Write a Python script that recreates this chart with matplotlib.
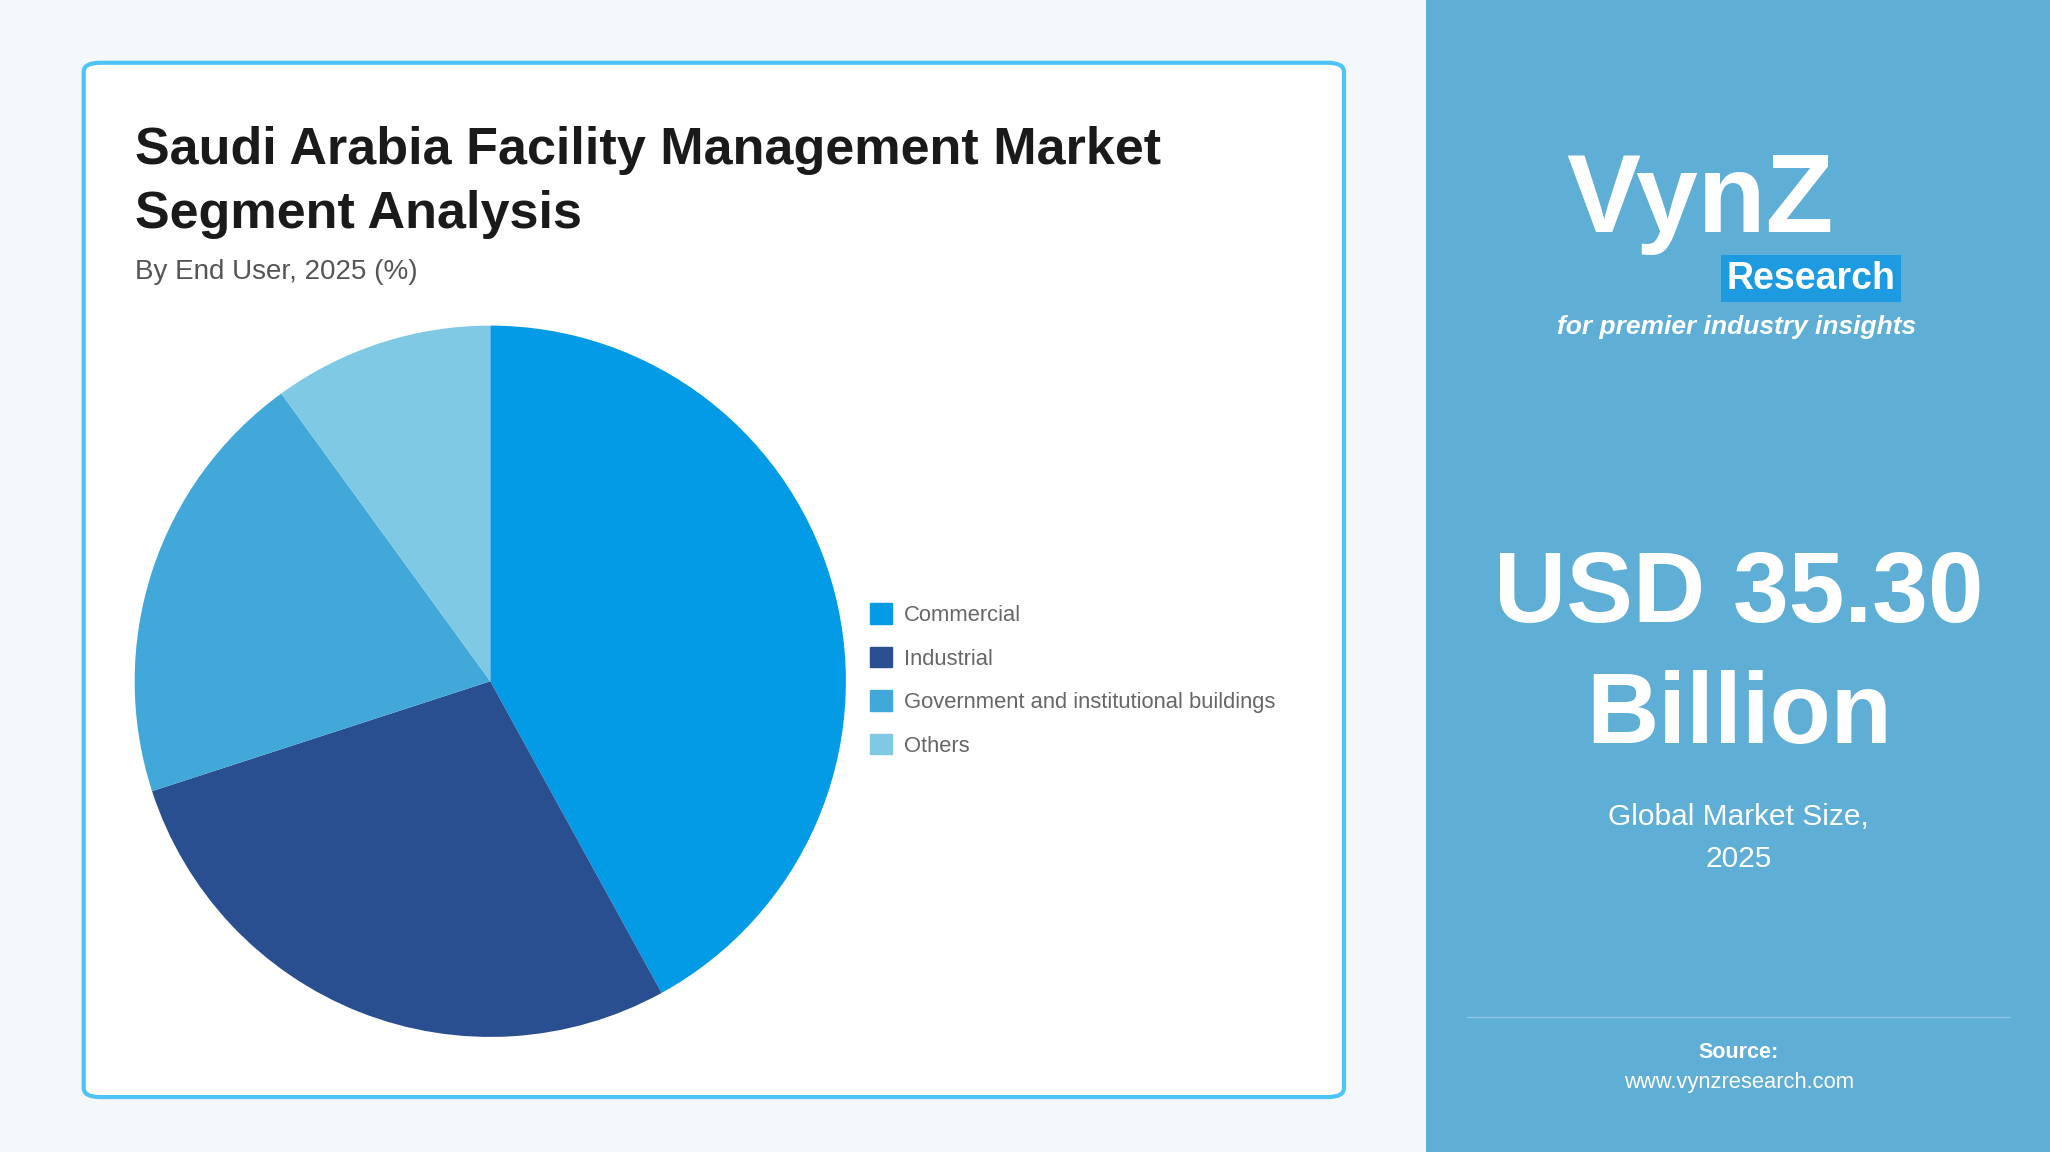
import matplotlib.pyplot as plt
from matplotlib.patches import FancyBboxPatch, Rectangle

segments = ["Commercial", "Industrial", "Government and institutional buildings", "Others"]
shares = [42, 28, 20, 10]
colors = ["#039be5", "#294f90", "#42a8da", "#80c9e5"]

plt.rcParams["font.family"] = ["Liberation Sans", "DejaVu Sans"]

W, H = 1568, 881  # reference layout units


def fx(x):
    return x / W


def fy(y):
    return 1 - y / H


fig = plt.figure(figsize=(20.5, 11.52), dpi=100)
fig.patch.set_facecolor("#f4f8fb")

# right panel
fig.patches.append(Rectangle((fx(1091), 0), 1 - fx(1091), 1, transform=fig.transFigure,
                             facecolor="#5eaed5", edgecolor="none", zorder=0))
# card
fig.patches.append(FancyBboxPatch((fx(64), fy(839)), fx(964), (839 - 48) / H,
                                  boxstyle="round,pad=0,rounding_size=0.008",
                                  transform=fig.transFigure, facecolor="white",
                                  edgecolor="#4fc3f7", linewidth=3, zorder=1))

fig.text(fx(103), fy(115), "Saudi Arabia Facility Management Market", fontsize=37.5,
         fontweight="bold", color="#1a1a1a", va="center")
fig.text(fx(103), fy(164), "Segment Analysis", fontsize=37.5, fontweight="bold",
         color="#1a1a1a", va="center")
fig.text(fx(103), fy(208), "By End User, 2025 (%)", fontsize=20, color="#555555", va="center")

r = 272
ax = fig.add_axes([fx(375 - r), fy(521 + r), 2 * r / W, 2 * r / H])
ax.pie(shares, colors=colors, startangle=90, counterclock=False,
       wedgeprops=dict(linewidth=0))
ax.set_xlim(-1, 1)
ax.set_ylim(-1, 1)
ax.set_aspect("auto")
ax.set_zorder(2)

handles = [Rectangle((0, 0), 1, 1, color=c) for c in colors]
fig.legend(handles, segments, loc="center left", bbox_to_anchor=(fx(650), fy(520)),
           frameon=False, fontsize=15.8, labelcolor="#666666", handlelength=1.0,
           handleheight=1.05, labelspacing=0.95, handletextpad=0.55)

# logo approximation
fig.text(fx(1300), fy(155), "VynZ", fontsize=80, fontweight="bold", color="white",
         ha="center", va="center")
fig.text(fx(1385), fy(213), "Research", fontsize=27, fontweight="bold", color="white",
         ha="center", va="center",
         bbox=dict(boxstyle="square,pad=0.15", facecolor="#1e9be0", edgecolor="none"))
fig.text(fx(1328), fy(250), "for premier industry insights", fontsize=19, style="italic",
         fontweight="bold", color="white", ha="center", va="center")

fig.text(fx(1330), fy(456), "USD 35.30", fontsize=72, fontweight="bold", color="white",
         ha="center", va="center")
fig.text(fx(1330), fy(548), "Billion", fontsize=72, fontweight="bold", color="white",
         ha="center", va="center")
fig.text(fx(1330), fy(625), "Global Market Size,", fontsize=21.5, color="white",
         ha="center", va="center")
fig.text(fx(1330), fy(657), "2025", fontsize=21.5, color="white", ha="center", va="center")
fig.lines.append(plt.Line2D([fx(1122), fx(1537)], [fy(778), fy(778)],
                            transform=fig.transFigure, color="#8cc6e3", linewidth=1))
fig.text(fx(1330), fy(805), "Source:", fontsize=15.5, fontweight="bold", color="white",
         ha="center", va="center")
fig.text(fx(1330), fy(828), "www.vynzresearch.com", fontsize=15.8, color="white",
         ha="center", va="center")

fig.savefig("out.png", dpi=100, facecolor=fig.get_facecolor())
